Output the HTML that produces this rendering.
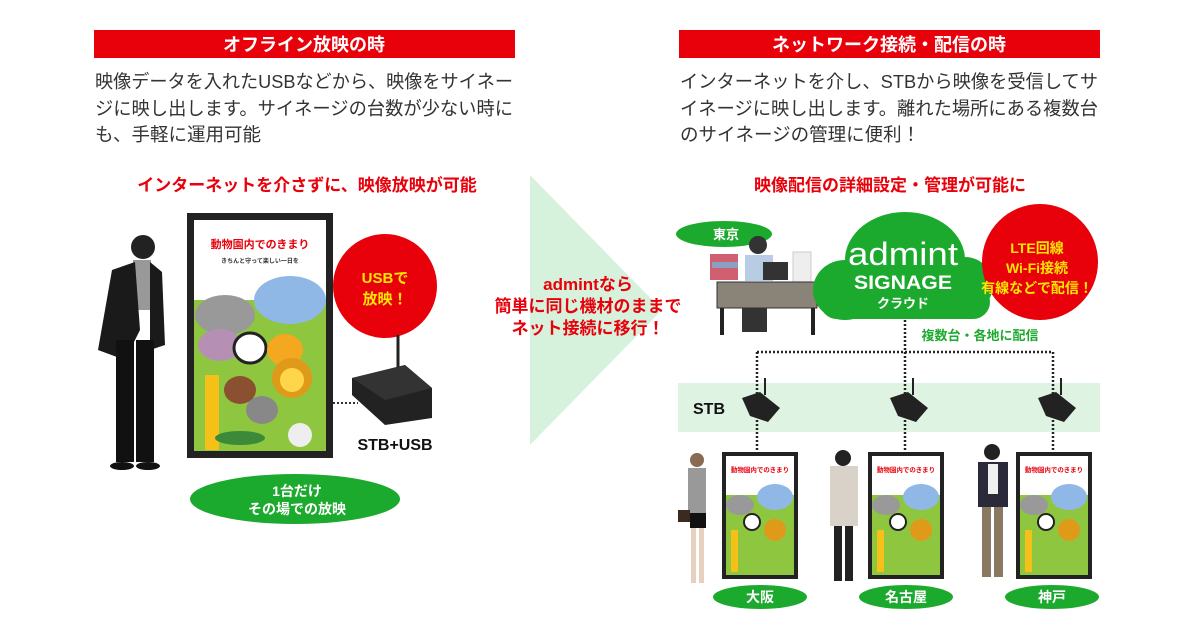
<!DOCTYPE html>
<html><head><meta charset="utf-8"><style>
html,body{margin:0;padding:0;background:#fff;}
svg{display:block;font-family:"Liberation Sans","Noto Sans CJK JP",sans-serif;}
</style></head><body>
<svg width="1200" height="630" viewBox="0 0 1200 630" xmlns="http://www.w3.org/2000/svg">
<rect width="1200" height="630" fill="#fff"/>
<!-- headers -->
<rect x="94" y="30" width="421" height="28" fill="#e8000b"/>
<text x="304" y="51" font-size="18" font-weight="bold" fill="#fff" text-anchor="middle">オフライン放映の時</text>
<rect x="679" y="30" width="421" height="28" fill="#e8000b"/>
<text x="889" y="51" font-size="18" font-weight="bold" fill="#fff" text-anchor="middle">ネットワーク接続・配信の時</text>
<!-- paragraphs -->
<g font-size="18.5" fill="#333">
<text x="95" y="88" textLength="418" lengthAdjust="spacingAndGlyphs">映像データを入れたUSBなどから、映像をサイネー</text>
<text x="95" y="115" textLength="418" lengthAdjust="spacingAndGlyphs">ジに映し出します。サイネージの台数が少ない時に</text>
<text x="95" y="141">も、手軽に運用可能</text>
<text x="680" y="88" textLength="418" lengthAdjust="spacingAndGlyphs">インターネットを介し、STBから映像を受信してサ</text>
<text x="680" y="115" textLength="418" lengthAdjust="spacingAndGlyphs">イネージに映し出します。離れた場所にある複数台</text>
<text x="680" y="141">のサイネージの管理に便利！</text>
</g>
<text x="307" y="191" font-size="17" font-weight="bold" fill="#e8000b" text-anchor="middle">インターネットを介さずに、映像放映が可能</text>
<text x="890" y="191" font-size="17" font-weight="bold" fill="#e8000b" text-anchor="middle">映像配信の詳細設定・管理が可能に</text>
<!-- triangle -->
<polygon points="530,175 662,310 530,445" fill="#d6f2dd"/>
<g font-size="17" font-weight="bold" fill="#e8000b" text-anchor="middle">
<text x="588" y="290">admintなら</text>
<text x="588" y="312">簡単に同じ機材のままで</text>
<text x="588" y="334">ネット接続に移行！</text>
</g>
<!-- left man -->
<g>
<circle cx="143" cy="247" r="12" fill="#222"/>
<rect x="133" y="260" width="18" height="50" fill="#999"/>
<path d="M112 270 L135 262 L140 330 L125 360 L98 350 Z" fill="#1a1a1a"/>
<path d="M150 262 L162 272 L165 345 L150 350 Z" fill="#1a1a1a"/>
<rect x="116" y="340" width="18" height="122" fill="#111"/>
<rect x="136" y="340" width="18" height="122" fill="#111"/>
<ellipse cx="122" cy="466" rx="12" ry="4" fill="#111"/>
<ellipse cx="148" cy="466" rx="12" ry="4" fill="#111"/>
</g>
<!-- left signage -->
<rect x="187" y="213" width="146" height="245" fill="#222"/>
<rect x="194" y="220" width="132" height="231" fill="#fff"/>
<text x="260" y="248" font-size="11" font-weight="bold" fill="#e8000b" text-anchor="middle">動物園内でのきまり</text>
<text x="260" y="263" font-size="6" font-weight="bold" fill="#333" text-anchor="middle">きちんと守って楽しい一日を</text>
<rect x="194" y="300" width="132" height="151" fill="#8fc640"/>
<ellipse cx="290" cy="300" rx="36" ry="24" fill="#8fb8e6"/>
<ellipse cx="225" cy="315" rx="30" ry="20" fill="#999"/>
<ellipse cx="220" cy="345" rx="22" ry="16" fill="#b690b4"/>
<ellipse cx="250" cy="348" rx="16" ry="15" fill="#fff" stroke="#222" stroke-width="3"/>
<ellipse cx="285" cy="350" rx="18" ry="16" fill="#f3a820"/>
<ellipse cx="292" cy="378" rx="20" ry="20" fill="#e09a1a"/>
<ellipse cx="292" cy="380" rx="12" ry="12" fill="#ffd64a"/>
<rect x="205" y="375" width="14" height="75" fill="#f5c018"/>
<ellipse cx="240" cy="390" rx="16" ry="14" fill="#8a5030"/>
<ellipse cx="262" cy="410" rx="16" ry="14" fill="#888"/>
<ellipse cx="240" cy="438" rx="25" ry="7" fill="#3a8a3a"/>
<ellipse cx="300" cy="435" rx="12" ry="12" fill="#eee"/>
<!-- red circle USB -->
<circle cx="385" cy="286" r="52" fill="#e8000b"/>
<text x="385" y="283" font-size="15" font-weight="bold" fill="#ffe600" text-anchor="middle">USBで</text>
<text x="385" y="304" font-size="15" font-weight="bold" fill="#ffe600" text-anchor="middle">放映！</text>
<!-- STB left -->
<line x1="398" y1="335" x2="398" y2="378" stroke="#222" stroke-width="3"/>
<polygon points="352,378 405,365 432,388 432,418 385,425 352,395" fill="#222"/>
<polygon points="352,378 405,365 432,388 385,400" fill="#333"/>
<line x1="333" y1="403" x2="358" y2="403" stroke="#333" stroke-width="2" stroke-dasharray="2,2"/>
<text x="395" y="450" font-size="16" font-weight="bold" fill="#111" text-anchor="middle">STB+USB</text>
<ellipse cx="295" cy="499" rx="105" ry="25" fill="#1caa2e"/>
<text x="297" y="496" font-size="14" font-weight="bold" fill="#fff" text-anchor="middle">1台だけ</text>
<text x="297" y="514" font-size="14" font-weight="bold" fill="#fff" text-anchor="middle">その場での放映</text>
<!-- Tokyo -->
<ellipse cx="724" cy="234" rx="48" ry="13" fill="#1caa2e"/>
<text x="726" y="239" font-size="13" font-weight="bold" fill="#fff" text-anchor="middle">東京</text>
<!-- desk -->
<rect x="710" y="254" width="28" height="26" fill="#d06070"/>
<rect x="712" y="262" width="26" height="6" fill="#8aa0c0"/>
<circle cx="758" cy="245" r="9" fill="#333"/>
<rect x="745" y="255" width="28" height="26" fill="#b8cce4"/>
<rect x="763" y="262" width="25" height="18" fill="#333"/>
<rect x="793" y="252" width="18" height="32" fill="#eee" stroke="#ccc"/>
<rect x="717" y="282" width="100" height="26" fill="#8a8378" stroke="#333"/>
<rect x="720" y="308" width="4" height="27" fill="#222"/>
<rect x="811" y="308" width="4" height="27" fill="#222"/>
<rect x="742" y="308" width="25" height="24" fill="#333"/>
<!-- cloud -->
<g fill="#1caa2e">
<ellipse cx="905" cy="260" rx="60" ry="48"/>
<ellipse cx="845" cy="290" rx="32" ry="30"/>
<ellipse cx="965" cy="285" rx="28" ry="28"/>
<rect x="820" y="285" width="170" height="34" rx="17"/>
</g>
<text x="903" y="265" font-size="32" fill="#fff" text-anchor="middle" textLength="110" lengthAdjust="spacingAndGlyphs">admint</text>
<text x="903" y="289" font-size="19" font-weight="bold" fill="#fff" text-anchor="middle" textLength="98" lengthAdjust="spacingAndGlyphs">SIGNAGE</text>
<text x="903" y="308" font-size="13" font-weight="bold" fill="#fff" text-anchor="middle">クラウド</text>
<circle cx="1040" cy="262" r="58" fill="#e8000b"/>
<g font-size="14" font-weight="bold" fill="#ffe600" text-anchor="middle">
<text x="1037" y="253">LTE回線</text>
<text x="1037" y="273">Wi-Fi接続</text>
<text x="1037" y="293">有線などで配信！</text>
</g>
<text x="980" y="340" font-size="13" font-weight="bold" fill="#1caa2e" text-anchor="middle">複数台・各地に配信</text>
<!-- STB band -->
<rect x="678" y="383" width="422" height="49" fill="#dff3e3"/>
<text x="693" y="414" font-size="16" font-weight="bold" fill="#111">STB</text>
<g stroke="#222" stroke-width="2.5" stroke-dasharray="2,2" fill="none">
<line x1="905" y1="320" x2="905" y2="452"/>
<line x1="757" y1="352" x2="1053" y2="352"/>
<line x1="757" y1="352" x2="757" y2="452"/>
<line x1="1053" y1="352" x2="1053" y2="452"/>
</g>
<g fill="#222">
<polygon points="742,398 760,392 780,408 768,422 750,416"/>
<polygon points="890,398 908,392 928,408 916,422 898,416"/>
<polygon points="1038,398 1056,392 1076,408 1064,422 1046,416"/>
</g>
<g stroke="#222" stroke-width="2">
<line x1="765" y1="378" x2="765" y2="395"/><line x1="913" y1="378" x2="913" y2="395"/><line x1="1061" y1="378" x2="1061" y2="395"/>
</g>
<!-- right screens -->
<g id="s1">
<rect x="722" y="452" width="76" height="127" fill="#222"/>
<rect x="726" y="456" width="68" height="119" fill="#fff"/>
<text x="760" y="472" font-size="6.5" font-weight="bold" fill="#e8000b" text-anchor="middle">動物園内でのきまり</text>
<rect x="726" y="495" width="68" height="80" fill="#8fc640"/>
<ellipse cx="775" cy="497" rx="18" ry="13" fill="#8fb8e6"/>
<ellipse cx="740" cy="505" rx="14" ry="10" fill="#999"/>
<ellipse cx="752" cy="522" rx="8" ry="8" fill="#fff" stroke="#222" stroke-width="2"/>
<ellipse cx="775" cy="530" rx="11" ry="11" fill="#e09a1a"/>
<rect x="731" y="530" width="7" height="42" fill="#f5c018"/>
</g>
<g transform="translate(146,0)">
<rect x="722" y="452" width="76" height="127" fill="#222"/>
<rect x="726" y="456" width="68" height="119" fill="#fff"/>
<text x="760" y="472" font-size="6.5" font-weight="bold" fill="#e8000b" text-anchor="middle">動物園内でのきまり</text>
<rect x="726" y="495" width="68" height="80" fill="#8fc640"/>
<ellipse cx="775" cy="497" rx="18" ry="13" fill="#8fb8e6"/>
<ellipse cx="740" cy="505" rx="14" ry="10" fill="#999"/>
<ellipse cx="752" cy="522" rx="8" ry="8" fill="#fff" stroke="#222" stroke-width="2"/>
<ellipse cx="775" cy="530" rx="11" ry="11" fill="#e09a1a"/>
<rect x="731" y="530" width="7" height="42" fill="#f5c018"/>
</g>
<g transform="translate(294,0)">
<rect x="722" y="452" width="76" height="127" fill="#222"/>
<rect x="726" y="456" width="68" height="119" fill="#fff"/>
<text x="760" y="472" font-size="6.5" font-weight="bold" fill="#e8000b" text-anchor="middle">動物園内でのきまり</text>
<rect x="726" y="495" width="68" height="80" fill="#8fc640"/>
<ellipse cx="775" cy="497" rx="18" ry="13" fill="#8fb8e6"/>
<ellipse cx="740" cy="505" rx="14" ry="10" fill="#999"/>
<ellipse cx="752" cy="522" rx="8" ry="8" fill="#fff" stroke="#222" stroke-width="2"/>
<ellipse cx="775" cy="530" rx="11" ry="11" fill="#e09a1a"/>
<rect x="731" y="530" width="7" height="42" fill="#f5c018"/>
</g>
<!-- people -->
<circle cx="697" cy="460" r="7" fill="#8a6a50"/>
<rect x="688" y="468" width="18" height="45" fill="#999"/>
<rect x="690" y="513" width="16" height="15" fill="#111"/>
<rect x="691" y="528" width="5" height="55" fill="#e8d0c0"/><rect x="699" y="528" width="5" height="55" fill="#e8d0c0"/>
<rect x="678" y="510" width="12" height="12" fill="#3a2a20"/>
<circle cx="843" cy="458" r="8" fill="#222"/>
<rect x="830" y="466" width="28" height="60" fill="#d8d2c8"/>
<rect x="834" y="526" width="8" height="55" fill="#222"/><rect x="845" y="526" width="8" height="55" fill="#222"/>
<circle cx="992" cy="452" r="8" fill="#222"/>
<rect x="978" y="462" width="30" height="45" fill="#2a2a3a"/>
<rect x="988" y="464" width="10" height="30" fill="#f0f0f0"/>
<rect x="982" y="507" width="9" height="70" fill="#8a7860"/><rect x="994" y="507" width="9" height="70" fill="#8a7860"/>
<!-- city labels -->
<g fill="#1caa2e">
<ellipse cx="760" cy="597" rx="47" ry="12"/>
<ellipse cx="906" cy="597" rx="47" ry="12"/>
<ellipse cx="1052" cy="597" rx="47" ry="12"/>
</g>
<g font-size="14" font-weight="bold" fill="#fff" text-anchor="middle">
<text x="760" y="602">大阪</text>
<text x="906" y="602">名古屋</text>
<text x="1052" y="602">神戸</text>
</g>
</svg>
</body></html>
